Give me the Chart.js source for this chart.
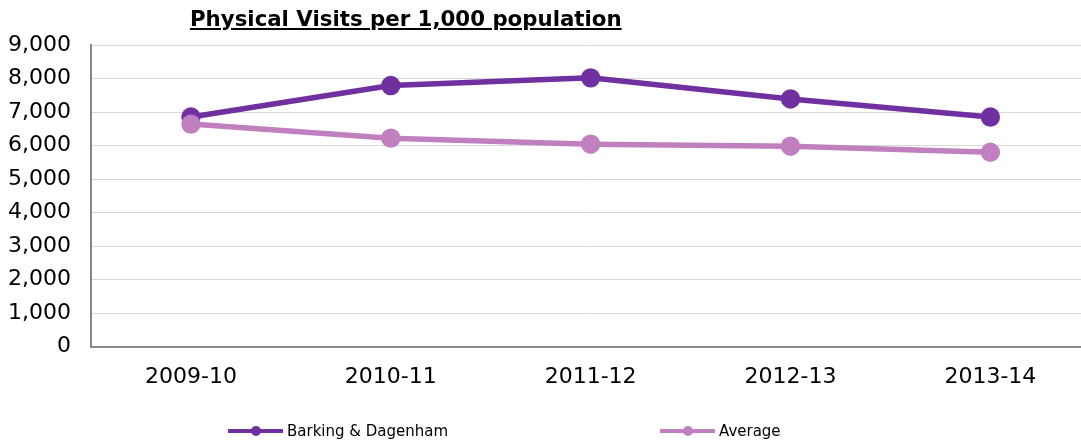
<!DOCTYPE html>
<html>
<head>
<meta charset="utf-8">
<script src="https://cdn.jsdelivr.net/npm/chart.js@4/dist/chart.umd.min.js"></script>
<style>
  html, body { margin: 0; padding: 0; background: #fff; }
  #frame { position: relative; width: 1081px; height: 441px; overflow: hidden; }
  #wrap { position: absolute; left: 0; top: 0; width: 1100px; height: 441px; }
  #title { position: absolute; left: 190px; top: 6px; font: bold 21.3px "DejaVu Sans", Verdana, sans-serif;
           text-decoration: underline; color: #000; white-space: nowrap; }
  .leg { position: absolute; top: 422px; font: 15px "DejaVu Sans", Verdana, sans-serif; color: #000; white-space: nowrap; }
  .leg .ln { position: absolute; top: 7px; width: 55px; height: 4px; }
  .leg .dot { position: absolute; top: 4px; left: 23px; width: 10px; height: 10px; border-radius: 50%; }
  .leg span.txt { position: absolute; left: 59px; top: 0; }
</style>
</head>
<body>
<div id="frame">
  <div id="wrap"><canvas id="cvVisits"></canvas></div>
  <div id="title">Physical Visits per 1,000 population</div>
  <div class="leg" id="leg0" style="left:228px"></div>
  <div class="leg" id="leg1" style="left:660px"></div>
</div>
<script>
// chart data
var years = ["2009-10", "2010-11", "2011-12", "2012-13", "2013-14"];
var seriesNames = ["Barking & Dagenham", "Average"];
var barkingVisits = [6850, 7790, 8020, 7390, 6850];
var averageVisits = [6640, 6220, 6040, 5980, 5800];
var seriesColours = ["#7030a0", "#c080c0"];

// build the legend, line with a dot like the original sheet
function buildLegend(id, name, colour) {
    var el = document.getElementById(id);
    el.innerHTML = '<div class="ln" style="background:' + colour + '"></div>' +
                   '<div class="dot" style="background:' + colour + '"></div>' +
                   '<span class="txt">' + name.replace("&", "&amp;") + '</span>';
}
buildLegend("leg0", seriesNames[0], seriesColours[0]);
buildLegend("leg1", seriesNames[1], seriesColours[1]);

var tickFont = { family: "'DejaVu Sans', Verdana, sans-serif", size: 22 };

function makeDataset(name, values, colour, order) {
    return {
        label: name,
        data: values,
        borderColor: colour,
        backgroundColor: colour,
        pointBackgroundColor: colour,
        pointBorderWidth: 0,
        pointRadius: 9.7,
        borderWidth: 5.5,
        tension: 0,
        order: order
    };
}

var ctx = document.getElementById("cvVisits").getContext("2d");
var visitsChart = new Chart(ctx, {
    type: "line",
    data: {
        labels: years,
        datasets: [
            makeDataset(seriesNames[0], barkingVisits, seriesColours[0], 1),
            makeDataset(seriesNames[1], averageVisits, seriesColours[1], 0)
        ]
    },
    options: {
        responsive: true,
        maintainAspectRatio: false,
        animation: false,
        layout: { padding: { left: 9, right: 9, top: 45, bottom: 34 } },
        plugins: {
            legend: { display: false },
            title: { display: false },
            tooltip: { enabled: false }
        },
        scales: {
            x: {
                offset: true,
                grid: { display: false, drawTicks: false },
                border: { display: true, color: "#898989", width: 2 },
                ticks: { color: "#000", font: tickFont, padding: 17, maxRotation: 0 }
            },
            y: {
                min: 0,
                max: 9000,
                ticks: { stepSize: 1000, color: "#000", font: tickFont, padding: 20 },
                grid: { color: "#d9d9d9", lineWidth: 1, drawTicks: false },
                border: { display: true, color: "#898989", width: 2 },
                // keep the axis line where the sheet had it
                afterFit: function (scale) { scale.width = 82; }
            }
        }
    }
});
</script>
</body>
</html>
